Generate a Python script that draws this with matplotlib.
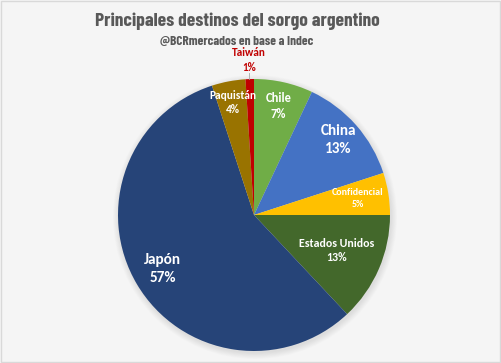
import numpy as np
import matplotlib.pyplot as plt
from matplotlib.patches import Circle, Rectangle

countries = ['Chile', 'China', 'Confidencial', 'Estados Unidos', 'Japón', 'Paquistán', 'Taiwán']
shares = [7, 13, 5, 13, 57, 4, 1]
colors = ['#70AD47', '#4472C4', '#FFC000', '#43682B', '#264478', '#997300', '#C00000']
labelDist = [0.82, 0.83, 0.77, 0.66, 0.78, 0.84, 1.14]
labelSize = [9, 11, 7.2, 8.6, 11, 8.2, 8]

cx, cy, r = 254, 148, 136
labelFont = ['Carlito', 'Lato', 'DejaVu Sans']
titleFont = ['Barlow Condensed', 'DejaVu Sans']


def main() -> None:
    fig = plt.figure(figsize=(5.01, 3.63), dpi=100)
    fig.patch.set_facecolor('#F5F5F5')
    ax = fig.add_axes([0, 0, 1, 1])

    # soft shadow under the pie
    for i in range(8):
        ax.add_patch(Circle((cx + 1, cy - 2), r + 6 - i * 0.8, color='#000000',
                            alpha=0.012, lw=0, zorder=0))

    ax.pie(shares, colors=colors, startangle=90, counterclock=False,
           center=(cx, cy), radius=r, frame=True,
           wedgeprops=dict(linewidth=0))

    total = sum(shares)
    cum = 0.0
    for name, val, dist, fs in zip(countries, shares, labelDist, labelSize):
        mid = (cum + val / 2) / total * 2 * np.pi
        cum += val
        x = cx + dist * r * np.sin(mid)
        y = cy + dist * r * np.cos(mid)
        color = '#C00000' if name == 'Taiwán' else 'white'
        ax.text(x, y, f'{name}\n{val}%', ha='center', va='center', fontsize=fs,
                fontweight='bold', color=color, family=labelFont, linespacing=1.35)
        if name == 'Taiwán':
            ax.plot([x, x], [y - 13, cy + r], color='#A6A6A6', lw=0.6)

    ax.set_xlim(0, 501)
    ax.set_ylim(0, 363)
    ax.set_aspect('equal')
    ax.axis('off')

    ax.text(237, 342, 'Principales destinos del sorgo argentino', ha='center', va='center',
            fontsize=14, fontweight='bold', color='#595959', family=titleFont)
    ax.text(237, 322, '@BCRmercados en base a Indec', ha='center', va='center',
            fontsize=9.5, fontweight='bold', color='#595959', family=titleFont)

    ax.add_patch(Rectangle((1, 1), 499, 361, fill=False, edgecolor='#D9D9D9', lw=1))

    fig.savefig('out.png', dpi=100, facecolor=fig.get_facecolor())


if __name__ == '__main__':
    main()
